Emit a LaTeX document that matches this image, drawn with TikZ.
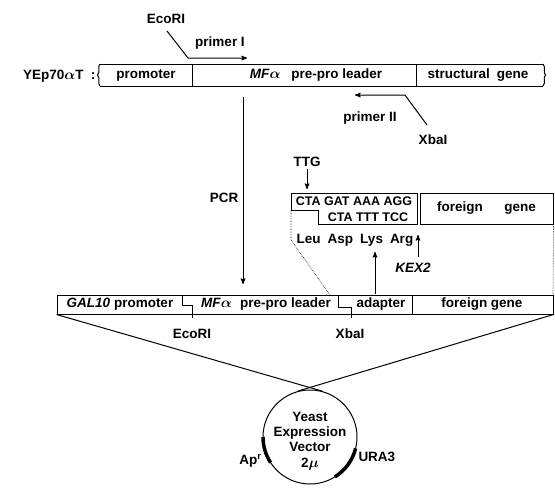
\documentclass[tikz,border=0pt]{standalone}
\usepackage{fontspec}
\setmainfont{Liberation Sans}
\usetikzlibrary{arrows,decorations.pathreplacing}

\begin{document}
\begin{tikzpicture}[x=1pt,y=-1pt,>=stealth',line width=1pt,
	every node/.style={font=\fontsize{13.5}{15}\selectfont\bfseries\boldmath,inner sep=0pt},
	endbrace/.style={decorate,decoration={brace,amplitude=2.5pt}},
	genebox/.style={draw,rectangle,minimum height=31,minimum width=133},
	seq/.style={font=\fontsize{12.5}{14}\selectfont\bfseries}]
	\useasboundingbox (0,0) rectangle (555,488);

	% plasmid YEp70aT
	\node[anchor=east] (yep) at (84,76) {YEp70$\alpha$T};
	\node (colon) at (93,76) {:};
	\coordinate (toptl) at (100,64);
	\coordinate (toptr) at (543,64);
	\coordinate (topbl) at (100,86);
	\coordinate (topbr) at (543,86);
	\draw (toptl) -- (toptr);
	\draw (topbl) -- (topbr);
	\draw[endbrace] (topbl) -- (toptl);
	\draw[endbrace] (toptr) -- (topbr);
	\draw (192,64) -- (192,86);
	\draw (416,64) -- (416,86);
	\node (prom) at (146,75) {promoter};
	\node (lead) at (316,75) {\textit{MF}$\alpha$\hspace{0.8em}pre-pro leader};
	\node (struct) at (478,75) {structural\hspace{0.5em}gene};

	% primers
	\node (ecotop) at (166,19) {EcoRI};
	\node (primone) at (220,43) {primer I};
	\coordinate (pa) at (167,31);
	\coordinate (pb) at (188,58);
	\coordinate (pc) at (247,58);
	\draw[->] (pa) -- (pb) -- (pc);

	\node (primtwo) at (370,118) {primer II};
	\node (xbatop) at (433,140) {XbaI};
	\coordinate (qa) at (427,125);
	\coordinate (qb) at (405,95);
	\coordinate (qc) at (355,95);
	\draw[->] (qa) -- (qb) -- (qc);

	% PCR
	\node (pcr) at (224,198) {PCR};
	\coordinate (pcrs) at (243,97);
	\coordinate (pcre) at (243,284);
	\draw[->] (pcrs) -- (pcre);

	% adapter detail
	\node (ttg) at (307,162) {TTG};
	\coordinate (ttge) at (307,189);
	\draw[->,shorten <=2pt] (ttg) -- (ttge);
	\draw (291,193) -- (417,193) -- (417,224) -- (318,224) -- (318,210) -- (291,210) -- cycle;
	\node[seq] (topstr) at (354,201) {CTA GAT AAA AGG};
	\node[seq] (botstr) at (368,217) {CTA TTT TCC};
	\node[genebox] (forbox) at (486.5,208.5) {foreign\hspace{1.6em}gene};
	\node (amino) at (355,240) {Leu\hspace{7pt}Asp\hspace{7pt}Lys\hspace{7pt}Arg};
	\node (kex) at (413,268) {\itshape KEX2};
	\coordinate (kexs) at (418,257);
	\coordinate (kexe) at (418,235);
	\draw[->] (kexs) -- (kexe);

	% expression cassette
	\node[draw,rectangle,minimum width=496,minimum height=19] (cas) at (305,304.5) {};
	\draw (182,295) -- (182,305) -- (192,305) -- (192,318);
	\draw (338,295) -- (338,307) -- (351,307) -- (351,318);
	\draw (412,295) -- (412,314);
	\node (galprom) at (120,304) {\textit{GAL10} promoter};
	\node (leadtwo) at (266,304) {\textit{MF}$\alpha$\hspace{0.6em}pre-pro leader};
	\node (adapt) at (381,304) {adapter};
	\node (forgene) at (482,304) {foreign gene};
	\node (ecobot) at (192,334) {EcoRI};
	\node (xbabot) at (350,334) {XbaI};
	\coordinate (ups) at (375,294);
	\coordinate (upe) at (375,252);
	\draw[->] (ups) -- (upe);
	\draw[densely dotted,line width=0.6pt] (291,210) -- (291,240) -- (330,295);
	\draw[densely dotted,line width=0.6pt] (forbox.south east) -- (553,295);

	% vector
	\node[draw,circle,minimum size=94] (vec) at (310,437) {};
	\node[align=center] (vectxt) at (310,441) {Yeast\\Expression\\Vector\\[1pt]2$\mu$};
	\draw (cas.south west) -- (vec.75);
	\draw (cas.south east) -- (vec.105);
	\draw[line width=3.5pt] (vec.center) ++(180:47pt) arc[start angle=180,end angle=213,radius=47pt];
	\draw[line width=3.5pt] (vec.center) ++(302:47pt) arc[start angle=302,end angle=346,radius=47pt];
	\node[anchor=east] (apr) at (262,461) {Ap\textsuperscript{r}};
	\node[anchor=west] (ura) at (358,457) {URA3};
\end{tikzpicture}
\end{document}
